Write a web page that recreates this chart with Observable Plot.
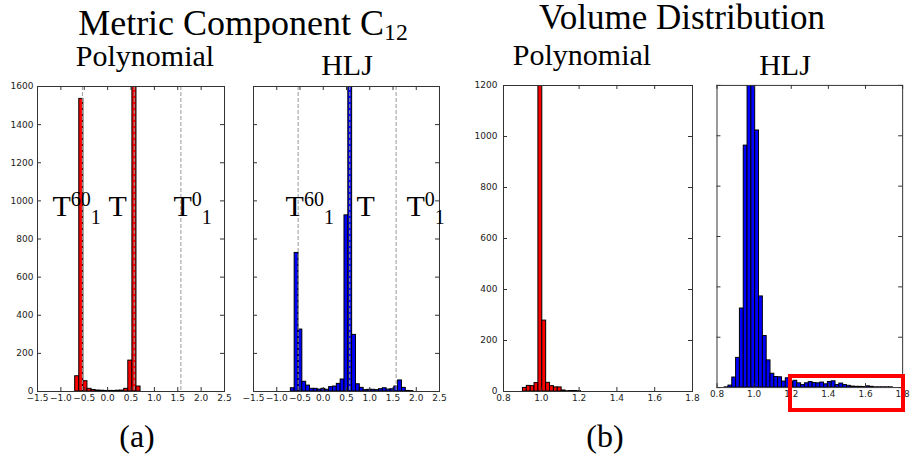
<!DOCTYPE html>
<html><head><meta charset="utf-8">
<script src="https://cdn.jsdelivr.net/npm/d3@7"></script>
<script src="https://cdn.jsdelivr.net/npm/@observablehq/plot@0.6"></script>
<style>
html,body{margin:0;padding:0;background:#fff;}
#root{position:relative;width:914px;height:464px;overflow:hidden;background:#fff;}
.t{position:absolute;font-family:"Liberation Serif","Times New Roman",serif;line-height:1;white-space:nowrap;color:#000;transform:translateX(-50%);}
.t sub{font-size:0.66em;vertical-align:baseline;position:relative;top:0.2em;}
.panel{position:absolute;}
.hl{position:absolute;border:4px solid #ff0000;box-sizing:border-box;}
</style></head><body><div id="root"></div>
<script>
// ---- tick values / labels ----
const c12Ticks = [-1.5, -1.0, -0.5, 0.0, 0.5, 1.0, 1.5, 2.0, 2.5];
const volTicks = [0.8, 1.0, 1.2, 1.4, 1.6, 1.8];
const c12CountTicks = [0, 200, 400, 600, 800, 1000, 1200, 1400, 1600];
const volCountTicks = [0, 200, 400, 600, 800, 1000, 1200];

// ---- histogram bins (first bin edge, bin width, counts) ----
const c12PolyStart = -0.694, c12PolyWidth = 0.0874;
const c12PolyCounts = [80, 1535, 54, 14, 8, 5, 4, 3, 3, 3, 4, 5, 14, 162, 1700, 26];

const c12HljStart = -0.697, c12HljWidth = 0.0824;
const c12HljCounts = [17, 727, 325, 51, 31, 14, 14, 10, 14, 9, 23, 26, 40, 63, 924, 1800,
  297, 38, 19, 7, 9, 9, 7, 12, 17, 10, 12, 26, 58, 19, 3, 2];

const volPolyStart = 0.9027, volPolyWidth = 0.0205;
const volPolyCounts = [14, 22, 21, 33, 1400, 278, 34, 21, 16, 16, 4, 1, 2, 2, 1];

const volHljStart = 0.841, volHljWidth = 0.0206;
const volHljCounts = [1, 8, 40, 118, 314, 961, 1250, 1240, 1021, 362, 205, 108, 55, 42, 41, 24,
  37, 22, 27, 17, 10, 17, 22, 18, 17, 20, 13, 22, 25, 10, 16, 10, 7, 4, 3, 3, 2, 5, 3, 1, 1, 1, 1, 1];

// ---- reference lines and annotations (C12 panels) ----
const refLines = [-0.54, 0.57, 1.567];
const labelBase = ["T", "T", "T"];
const labelSup = ["60", "", "0"];
const labelSub = ["1", "", "1"];
const labelXPoly = [-1.18, 0.02, 1.41];
const labelXHlj = [-0.81, 0.715, 1.79];
const labelY = [923, 923, 923];

// ---- texts ----
const titleA = "Metric Component C", titleASub = "12";
const titleB = "Volume Distribution";
const subPoly = "Polynomial", subHlj = "HLJ";
const capA = "(a)", capB = "(b)";

function bins(start, width, counts) {
  return counts.map((c, i) => ({x0: start + i * width, x1: start + (i + 1) * width, count: c}));
}

const root = document.getElementById("root");
const mL = 40, mR = 12, mT = 6, mB = 20;

function panel(o) {
  const fw = o.frameW, fh = o.frameH;
  const marks = [
    Plot.rect(bins(o.start, o.width, o.counts), {x1: "x0", x2: "x1", y1: 0, y2: "count",
      fill: o.color, stroke: "#000", strokeWidth: 1, clip: true}),
  ];
  if (o.lines) marks.push(Plot.ruleX(o.lines, {x: d => d, stroke: "#9a9a9a", strokeDasharray: "4,2", strokeWidth: 1}));
  marks.push(
    Plot.tickX(o.xTicks, {x: d => d, insetTop: fh - 4, stroke: "#333"}),
    Plot.tickX(o.xTicks, {x: d => d, insetBottom: fh - 4, stroke: "#333"}),
    Plot.tickY(o.yTicks, {y: d => d, insetRight: fw - 4, stroke: "#333"}),
    Plot.tickY(o.yTicks, {y: d => d, insetLeft: fw - 4, stroke: "#333"}),
    Plot.frame({stroke: "#333", strokeWidth: 1}),
    Plot.axisX(o.xTicks, {tickSize: 0, tickPadding: 3, tickFormat: o.xFormat, fill: "#222", label: null})
  );
  if (o.showY) marks.push(Plot.axisY(o.yTicks, {tickSize: 0, tickPadding: o.yPad, tickFormat: d => `${d}`, fill: "#222", label: null}));
  if (o.labelX) {
    const idx = o.labelX.map((_, i) => i);
    marks.push(Plot.text(idx, {x: i => o.labelX[i], y: i => labelY[i], text: i => labelBase[i],
      textAnchor: "start", lineAnchor: "bottom", fontSize: 30, fontFamily: "Liberation Serif, serif", fill: "#000"}));
  }
  const svg = Plot.plot({
    width: mL + fw + mR, height: mT + fh + mB,
    marginLeft: mL, marginRight: mR, marginTop: mT, marginBottom: mB,
    x: {domain: o.xDomain, axis: null, label: null},
    y: {domain: o.yDomain, axis: null, label: null},
    style: {background: "transparent", fontFamily: "DejaVu Sans", fontSize: "9px", overflow: "visible"},
    marks
  });
  if (o.labelX) {
    const texts = Array.from(svg.querySelectorAll("text")).filter(t => t.textContent === "T");
    texts.forEach((t, i) => {
      const sel = d3.select(t);
      sel.text(null);
      sel.append("tspan").text(labelBase[i]);
      if (labelSup[i]) sel.append("tspan").attr("font-size", 20).attr("dy", -10).text(labelSup[i]);
      if (labelSub[i]) sel.append("tspan").attr("font-size", 20).attr("dy", labelSup[i] ? 18 : 8).text(labelSub[i]);
    });
  }
  const div = document.createElement("div");
  div.className = "panel";
  div.style.left = (o.frameLeft - mL) + "px";
  div.style.top = (o.frameTop - mT) + "px";
  div.appendChild(svg);
  root.appendChild(div);
}

const fmt1 = d3.format(".1f");
panel({frameLeft: 37, frameTop: 86, frameW: 187, frameH: 305, xDomain: [-1.5, 2.5], yDomain: [0, 1600],
  xTicks: c12Ticks, yTicks: c12CountTicks, xFormat: fmt1, showY: true, yPad: 4,
  start: c12PolyStart, width: c12PolyWidth, counts: c12PolyCounts, color: "#ff0000",
  lines: refLines, labelX: labelXPoly});
panel({frameLeft: 253, frameTop: 86, frameW: 186, frameH: 305, xDomain: [-1.5, 2.5], yDomain: [0, 1600],
  xTicks: c12Ticks, yTicks: c12CountTicks, xFormat: fmt1, showY: false,
  start: c12HljStart, width: c12HljWidth, counts: c12HljCounts, color: "#0000ff",
  lines: refLines, labelX: labelXHlj});
panel({frameLeft: 503, frameTop: 85, frameW: 189, frameH: 306, xDomain: [0.8, 1.8], yDomain: [0, 1200],
  xTicks: volTicks, yTicks: volCountTicks, xFormat: fmt1, showY: true, yPad: 6,
  start: volPolyStart, width: volPolyWidth, counts: volPolyCounts, color: "#ff0000"});
panel({frameLeft: 717, frameTop: 85, frameW: 188, frameH: 306, xDomain: [0.8, 1.8], yDomain: [0, 1200],
  xTicks: volTicks, yTicks: volCountTicks, xFormat: fmt1, showY: false,
  start: volHljStart, width: volHljWidth, counts: volHljCounts, color: "#0000ff"});

// ---- titles (positioned by baseline) ----
function addText(html, cx, baseline, size) {
  const d = document.createElement("div");
  d.className = "t";
  d.style.fontSize = size + "px";
  d.style.left = cx + "px";
  d.style.top = Math.max(0, baseline - 0.8375 * size) + "px";
  d.innerHTML = html;
  root.appendChild(d);
}
addText(`${titleA}<sub>${titleASub}</sub>`, 243, 35, 36);
addText(titleB, 682, 29.5, 35);
addText(subPoly, 145, 66, 30);
addText(subHlj, 347, 75, 30);
addText(subPoly, 582, 65, 30);
addText(subHlj, 785, 75, 30);
addText(capA, 137, 447, 32);
addText(capB, 605, 447, 32);

// ---- highlight box on the HLJ volume tail ----
const hl = document.createElement("div");
hl.className = "hl";
hl.style.left = "788px"; hl.style.top = "374px";
hl.style.width = "117px"; hl.style.height = "38px";
root.appendChild(hl);
</script></body></html>
